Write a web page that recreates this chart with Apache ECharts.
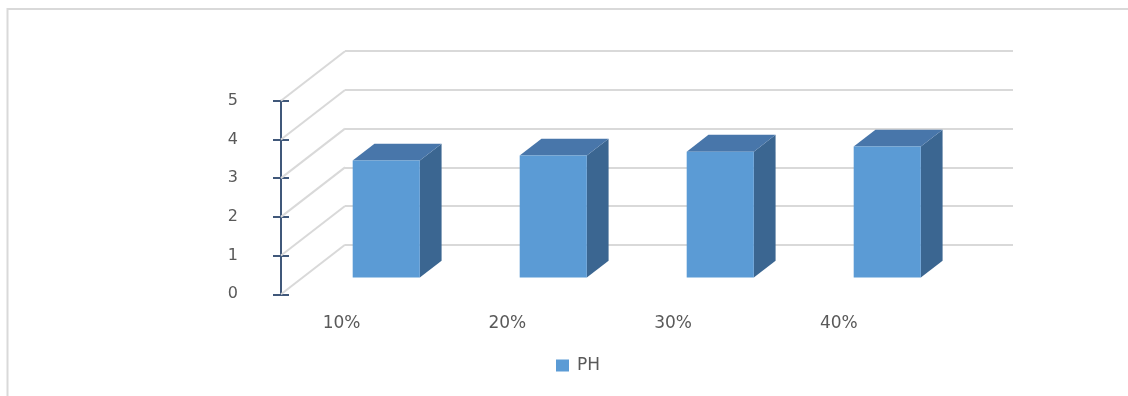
<!DOCTYPE html>
<html>
<head>
<meta charset="utf-8">
<script src="https://cdn.jsdelivr.net/npm/echarts@6/dist/echarts.min.js"></script>
<style>
  html, body { margin: 0; padding: 0; background: #ffffff; }
  #chart { width: 1128px; height: 396px; }
</style>
</head>
<body>
<div id="chart"></div>
<script>
// Category labels and pH readings
const categories = ['10%', '20%', '30%', '40%'];
const phValues = [3.02, 3.15, 3.25, 3.38];
const seriesName = 'PH';

// Value axis range
const yMin = 0;
const yMax = 5;
const yStep = 1;
const gridValues = [0, 1, 2, 3, 4, 5];

// Oblique 3D look: depth vector from the front plane to the back wall
const DEPTH = [64, -49.5];
const BAR_FRONT = 0.34;   // where bar fronts sit within the depth
const BAR_DEPTH = 0.34;   // bar thickness along the depth
const BAR_WIDTH = 0.402;  // bar width as share of a category band

const FRONT = { left: 281, top: 100.7, width: 668, height: 193.6 };

const textColor = '#595959';
const gridColor = '#d9d9d9';
const axisColor = '#40587a';
const faceColor = '#5b9bd5';
const topColor = '#4876aa';
const sideColor = '#3b6691';

const chart = echarts.init(document.getElementById('chart'), null, { renderer: 'canvas' });

function shift(p, f) {
  return [p[0] + DEPTH[0] * f, p[1] + DEPTH[1] * f];
}

const option = {
  animation: false,
  backgroundColor: '#ffffff',
  color: [faceColor],
  textStyle: { fontFamily: 'DejaVu Sans' },
  graphic: [{
    type: 'rect',
    silent: true,
    z: -10,
    shape: { x: 7.5, y: 9, width: 1200, height: 500 },
    style: { fill: 'none', stroke: gridColor, lineWidth: 2 }
  }],
  legend: {
    data: [seriesName],
    left: 551,
    top: 352,
    icon: 'rect',
    itemWidth: 13,
    itemHeight: 12,
    textStyle: { color: textColor, fontSize: 17, fontFamily: 'DejaVu Sans', padding: [0, 0, 0, 3] }
  },
  grid: [
    // front plane (value axis and bars)
    { left: FRONT.left, top: FRONT.top, width: FRONT.width, height: FRONT.height },
    // back wall, pushed back by the depth vector
    { left: FRONT.left + DEPTH[0], top: FRONT.top + DEPTH[1], width: FRONT.width, height: FRONT.height },
    // category label row
    { left: 258.7, top: FRONT.top, width: 663, height: FRONT.height }
  ],
  xAxis: [
    { type: 'category', gridIndex: 0, data: categories, show: false },
    { type: 'category', gridIndex: 1, data: categories, show: false },
    {
      type: 'category', gridIndex: 2, data: categories,
      axisLine: { show: false }, axisTick: { show: false },
      axisLabel: { color: textColor, fontSize: 17, fontFamily: 'DejaVu Sans', margin: 21 }
    }
  ],
  yAxis: [
    {
      type: 'value', gridIndex: 0, min: yMin, max: yMax, interval: yStep,
      axisLine: { show: true, lineStyle: { color: axisColor, width: 2 } },
      axisTick: { show: true, length: 8, lineStyle: { color: axisColor, width: 2 } },
      axisLabel: { color: textColor, fontSize: 16, fontFamily: 'DejaVu Sans', margin: 43 },
      splitLine: { show: false }
    },
    {
      type: 'value', gridIndex: 0, min: yMin, max: yMax, interval: yStep, position: 'left',
      axisLine: { show: false },
      axisTick: { show: true, inside: true, length: 8, lineStyle: { color: axisColor, width: 2 } },
      axisLabel: { show: false },
      splitLine: { show: false }
    },
    {
      type: 'value', gridIndex: 1, min: yMin, max: yMax, interval: yStep,
      axisLine: { show: false }, axisTick: { show: false }, axisLabel: { show: false },
      splitLine: { show: true, lineStyle: { color: gridColor, width: 2 } }
    },
    { type: 'value', gridIndex: 2, min: yMin, max: yMax, show: false }
  ],
  series: [
    {
      // side-wall lines joining the value axis to the back wall grid
      type: 'custom',
      name: 'wall',
      xAxisIndex: 0,
      yAxisIndex: 0,
      silent: true,
      z: 1,
      data: gridValues.map(v => [0, v]),
      renderItem: function (params, api) {
        const y = api.coord([0, api.value(1)])[1];
        const x = params.coordSys.x;
        return {
          type: 'line',
          shape: { x1: x, y1: y, x2: x + DEPTH[0], y2: y + DEPTH[1] },
          style: { stroke: gridColor, lineWidth: 2 }
        };
      }
    },
    {
      type: 'custom',
      name: seriesName,
      xAxisIndex: 0,
      yAxisIndex: 0,
      z: 3,
      itemStyle: { color: faceColor },
      data: phValues.map((v, i) => [i, v]),
      renderItem: function (params, api) {
        const idx = api.value(0);
        const top = api.coord([idx, api.value(1)]);
        const base = api.coord([idx, 0]);
        const w = api.size([1, 0])[0] * BAR_WIDTH;
        const ftl = shift([top[0] - w / 2, top[1]], BAR_FRONT);
        const ftr = shift([top[0] + w / 2, top[1]], BAR_FRONT);
        const fbr = shift([base[0] + w / 2, base[1]], BAR_FRONT);
        const btl = shift(ftl, BAR_DEPTH);
        const btr = shift(ftr, BAR_DEPTH);
        const bbr = shift(fbr, BAR_DEPTH);
        return {
          type: 'group',
          children: [
            {
              type: 'polygon',
              shape: { points: [ftr, btr, bbr, fbr] },
              style: { fill: sideColor }
            },
            {
              type: 'polygon',
              shape: { points: [ftl, ftr, btr, btl] },
              style: { fill: topColor }
            },
            {
              type: 'rect',
              shape: { x: ftl[0], y: ftl[1], width: w, height: fbr[1] - ftl[1] },
              style: { fill: faceColor }
            }
          ]
        };
      }
    }
  ]
};

chart.setOption(option);
</script>
</body>
</html>
